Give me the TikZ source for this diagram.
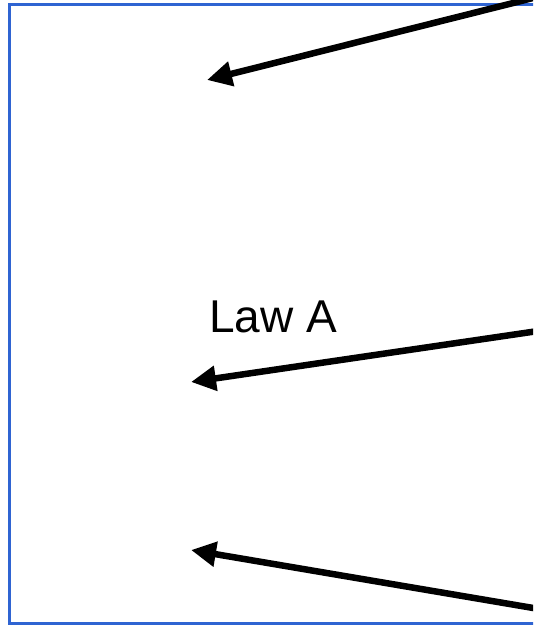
\documentclass[tikz,border=0pt]{standalone}
\usepackage{fontspec}
\setmainfont{Liberation Sans}
\usepackage{xcolor}
\usetikzlibrary{arrows.meta,positioning}
\definecolor{frameblue}{HTML}{2F64D2}

\begin{document}
\begin{tikzpicture}[x=1pt,y=1pt,
  lawarrow/.style={line width=6.5pt,-{Triangle[length=25pt,width=24pt]}}]

\useasboundingbox (0,0) rectangle (533,626);
\clip (0,0) rectangle (533,626);

% Frame
\draw[frameblue,line width=3pt] (9,2) rectangle (570,621);

% Label
\node[anchor=base,inner sep=0pt,font=\fontsize{46}{52}\selectfont] (law) at (273,293) {Law A};

% Arrow ends
\coordinate (top_in) at (545,631);
\coordinate (top_tip) at (207,546);
\coordinate (mid_in) at (545,296);
\coordinate (mid_tip) at (191,244);
\coordinate (low_in) at (545,16);
\coordinate (low_tip) at (191,76);

% Arrows
\draw[lawarrow] (top_in) -- (top_tip);
\draw[lawarrow] (mid_in) -- (mid_tip);
\draw[lawarrow] (low_in) -- (low_tip);

\end{tikzpicture}
\end{document}
